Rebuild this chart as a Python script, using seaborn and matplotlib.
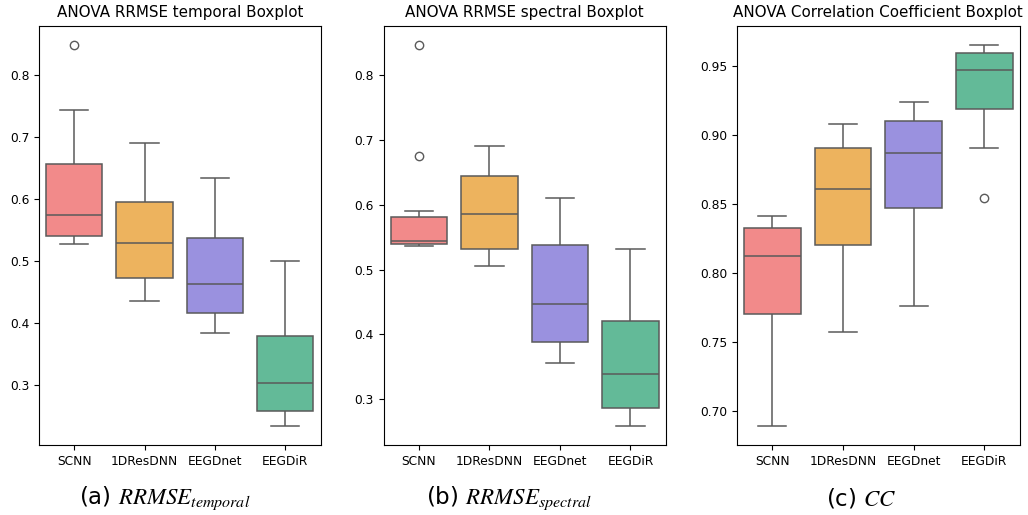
import numpy as np
import pandas as pd
import matplotlib
matplotlib.use("Agg")
import matplotlib.pyplot as plt
import seaborn as sns

models = ["SCNN", "1DResDNN", "EEGDnet", "EEGDiR"]
colors = ["#F28A8A", "#EDB35E", "#9A91DF", "#63BA98"]

# RRMSE temporal values per model
temporal_scnn = [0.528, 0.535, 0.541, 0.558, 0.5735, 0.610, 0.657, 0.7445, 0.849]
temporal_1dres = [0.436, 0.473, 0.5295, 0.5956, 0.6897]
temporal_eegdnet = [0.3844, 0.4155, 0.4624, 0.5364, 0.6344]
temporal_eegdir = [0.2339, 0.258, 0.3026, 0.3784, 0.500]

# RRMSE spectral values per model
spectral_scnn = [0.5363, 0.538, 0.539, 0.543, 0.544, 0.5452, 0.554, 0.590, 0.6748, 0.8466]
spectral_1dres = [0.506, 0.5323, 0.585, 0.644, 0.6912]
spectral_eegdnet = [0.3554, 0.3877, 0.4472, 0.5374, 0.6108]
spectral_eegdir = [0.259, 0.2872, 0.3385, 0.4205, 0.5312]

# Correlation coefficient values per model
cc_scnn = [0.6892, 0.770, 0.8126, 0.8325, 0.8413]
cc_1dres = [0.7572, 0.8202, 0.8611, 0.8901, 0.9077]
cc_eegdnet = [0.7762, 0.8467, 0.887, 0.9098, 0.9238]
cc_eegdir = [0.8546, 0.8903, 0.919, 0.935, 0.9466, 0.952, 0.9589, 0.962, 0.9652]

titles = ["ANOVA RRMSE temporal Boxplot", "ANOVA RRMSE spectral Boxplot",
          "ANOVA Correlation Coefficient Boxplot"]
captions = [r"(a) $RRMSE_{temporal}$", r"(b) $RRMSE_{spectral}$", r"(c) $CC$"]


def to_frame(groups):
    rows = []
    for m, vals in zip(models, groups):
        for v in vals:
            rows.append({"model": m, "value": v})
    return pd.DataFrame(rows)


datasets = [
    to_frame([temporal_scnn, temporal_1dres, temporal_eegdnet, temporal_eegdir]),
    to_frame([spectral_scnn, spectral_1dres, spectral_eegdnet, spectral_eegdir]),
    to_frame([cc_scnn, cc_1dres, cc_eegdnet, cc_eegdir]),
]

plt.rcParams["font.family"] = ["DejaVu Sans"]
plt.rcParams["mathtext.fontset"] = "stix"

fig = plt.figure(figsize=(10.28, 5.15), dpi=100)
lefts = [39 / 1028, 383.7 / 1028, 737 / 1028]
widths = [281.5 / 1028, 282 / 1028, 282.7 / 1028]
bottom = 1 - 445 / 515
height = (445 - 25.7) / 515
cap_x = [165 / 1028, 509 / 1028, 861 / 1028]

for i, df in enumerate(datasets):
    ax = fig.add_axes([lefts[i], bottom, widths[i], height])
    sns.boxplot(data=df, x="model", y="value", hue="model", palette=colors,
                saturation=1, legend=False, ax=ax, linecolor="#5a5a5a",
                linewidth=1.1)
    ax.set_xlabel("")
    ax.set_ylabel("")
    ax.set_title(titles[i], fontsize=10.9)
    ax.tick_params(labelsize=8.8)
    fig.text(cap_x[i], 1 - 498 / 515, captions[i], ha="center", va="center",
             fontsize=16.5)

fig.savefig("out.png", dpi=100)
